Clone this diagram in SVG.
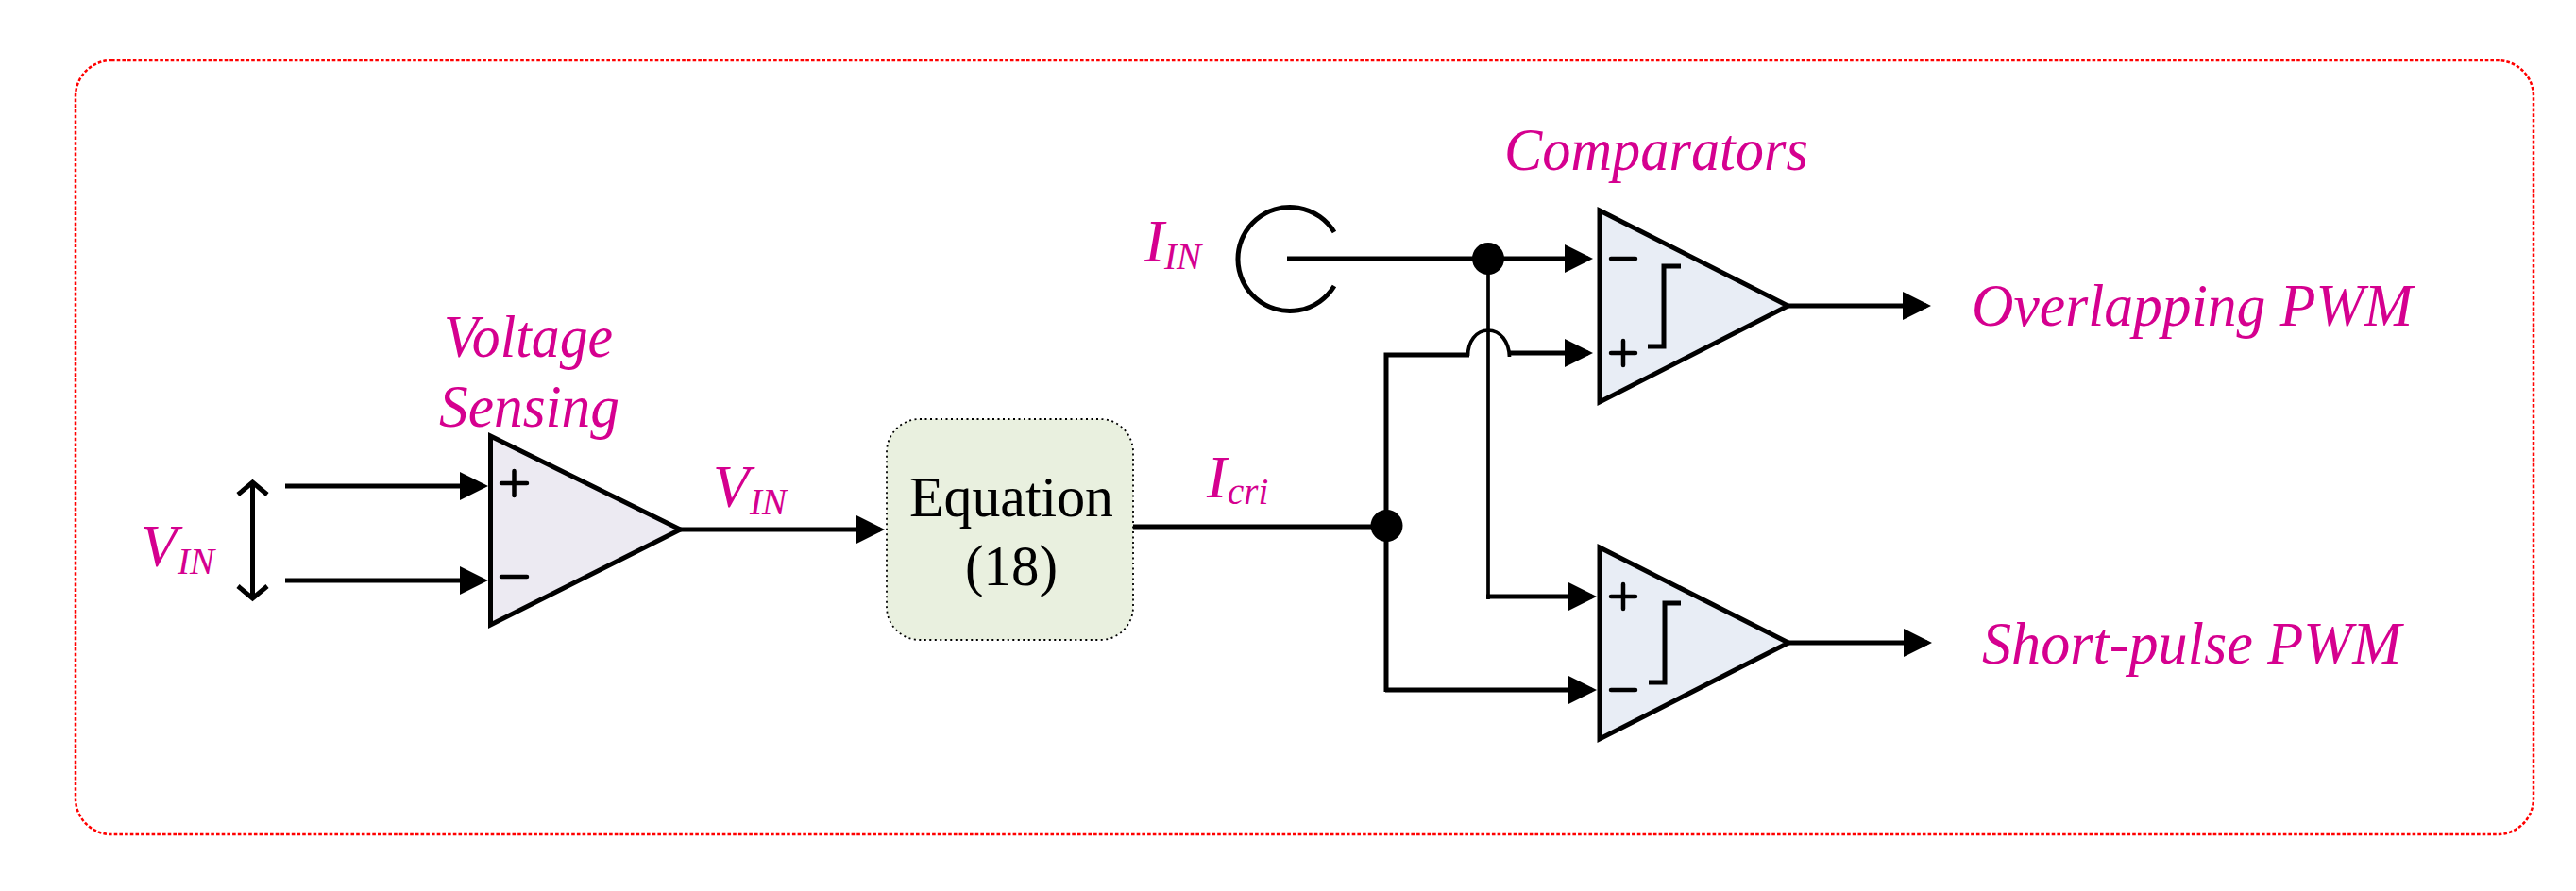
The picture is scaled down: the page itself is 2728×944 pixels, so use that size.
<svg xmlns="http://www.w3.org/2000/svg" width="2728" height="944" viewBox="0 0 2728 944">
<style>
.w{fill:none;stroke:#000;stroke-width:5}
.t{fill:none;stroke:#000;stroke-width:3.700}
.a{marker-end:url(#arr)}
.amp{stroke:#000;stroke-width:5;stroke-linejoin:miter}
.sg{fill:none;stroke:#000;stroke-width:4.500;stroke-linecap:round}
.st{fill:none;stroke:#000;stroke-width:5}
.l{font-family:"Liberation Serif","Times New Roman",serif;font-style:italic;font-size:63px;fill:#D5008F}
.s{font-size:39px}
.b{font-family:"Liberation Serif","Times New Roman",serif;font-size:62px;fill:#000}
</style>
<defs>
<marker id="arr" markerUnits="userSpaceOnUse" markerWidth="30" markerHeight="30" refX="25" refY="15" orient="auto" viewBox="0 0 30 30"><polygon points="0,0 30,15 0,30" fill="#000"/></marker>
</defs>
<g id="frame"><rect x="80" y="64" width="2603" height="820" rx="38" ry="38" fill="#fff" stroke="#FF0000" stroke-width="2.500" stroke-dasharray="3.600 2.100"/></g>
<g id="connectors">
<path class="w a" d="M302 515H512"/>
<path class="w a" d="M302 615H512"/>
<path class="w" d="M267.500 511V634M252 524L267.500 511L283 524M252 621L267.500 634L283 621"/>
<path class="w a" d="M720 561H932"/>
<path class="w" d="M1200 558H1469"/>
<path class="w a" d="M1363 274H1682"/>
<path class="w" d="M1366 219m47 27A55 55 0 1 0 1413 303"/>
<path class="t" d="M1576 274V635"/>
<path class="w a" d="M1574 632H1686"/>
<path class="w" d="M1556 376H1468V733"/>
<path class="t" d="M1554.500 377C1554.500 362 1563 350 1576 350C1589 350 1598 362 1598.500 378"/>
<path class="w a" d="M1597 374H1682"/>
<path class="w a" d="M1467 731H1686"/>
<path class="w a" d="M1893 324H2040"/>
<path class="w a" d="M1894 681H2041"/>
</g>
<g id="amp-sensing">
<polygon class="amp" points="519.500,462 720.500,561 519.500,662" fill="#ECEAF2"/>
<path class="sg" d="M531 512H558M544.500 499V525M531 611H558"/>
</g>
<g id="equation">
<rect x="939" y="444" width="261" height="234" rx="35" ry="35" fill="#E9F0DF" stroke="#000" stroke-width="1.800" stroke-dasharray="2 3.500"/>
<text class="b" x="963" y="547" textLength="216" lengthAdjust="spacingAndGlyphs">Equation</text>
<text class="b" x="1022" y="620" textLength="98" lengthAdjust="spacingAndGlyphs">(18)</text>
</g>
<g id="node-icri"><circle cx="1468.500" cy="557" r="17"/></g>
<g id="node-iin"><circle cx="1576" cy="274" r="17"/></g>
<g id="comparator-top">
<polygon class="amp" points="1694,223 1893.500,324 1694,426" fill="#E8EDF5"/>
<path class="sg" d="M1706 274H1732M1706 374H1732M1719 361V387"/>
<path class="st" d="M1780 282H1762V367H1745"/>
</g>
<g id="comparator-bottom">
<polygon class="amp" points="1694,580 1894,681 1694,783" fill="#E8EDF5"/>
<path class="sg" d="M1706 632H1732M1719 619V645M1706 731H1732"/>
<path class="st" d="M1780 639H1763V723H1746"/>
</g>
<g id="labels">
<text class="l" x="470" y="378" textLength="179" lengthAdjust="spacingAndGlyphs">Voltage</text>
<text class="l" x="465" y="452" textLength="191" lengthAdjust="spacingAndGlyphs">Sensing</text>
<text class="l" x="149" y="600">V<tspan class="s" x="188" y="608">IN</tspan></text>
<text class="l" x="755" y="537">V<tspan class="s" x="794" y="545">IN</tspan></text>
<text class="l" x="1278" y="527">I<tspan class="s" x="1300" y="534">cri</tspan></text>
<text class="l" x="1212" y="277">I<tspan class="s" x="1233" y="285">IN</tspan></text>
<text class="l" x="1593" y="180" textLength="322" lengthAdjust="spacingAndGlyphs">Comparators</text>
<text class="l" x="2088" y="345" textLength="467" lengthAdjust="spacingAndGlyphs">Overlapping PWM</text>
<text class="l" x="2099" y="703" textLength="444" lengthAdjust="spacingAndGlyphs">Short-pulse PWM</text>
</g>
</svg>
